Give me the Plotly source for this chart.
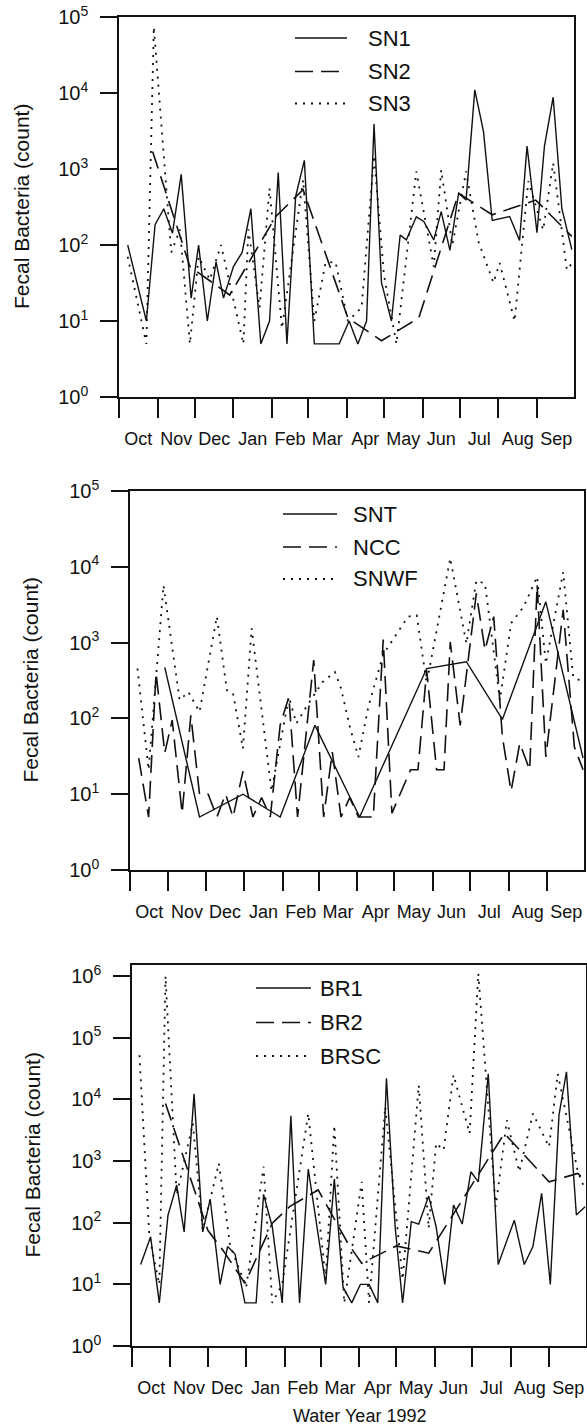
import pandas as pd
import plotly.graph_objects as go

W, H = 587, 1427
START = pd.Timestamp("1991-10-01")
FONT = "Liberation Sans, Arial, Helvetica, sans-serif"
INK = "#111111"

# Sampling day (days after 1 Oct 1991) and fecal bacteria counts per site
sn1_day = [7, 22, 29, 36, 43, 50, 58, 64, 71, 78, 84, 92, 99, 106, 114, 121, 128, 135, 142, 149,
           157, 167, 177, 185, 192, 199, 205, 211, 219, 226, 231, 239, 245, 253, 259, 266, 273, 279,
           286, 293, 300, 314, 322, 328, 336, 342, 349, 356, 364]
sn1_count = [100, 10, 185, 300, 143, 850, 20, 100, 10, 60, 20, 52, 80, 300, 5, 10, 900, 5, 435, 1300,
             5, 5, 5, 10, 5, 10, 3900, 32, 10, 135, 117, 235, 204, 117, 275, 85, 480, 390,
             11000, 3100, 210, 237, 115, 2000, 145, 2000, 8800, 300, 87]

sn2_day = [27, 57, 89, 126, 148, 184, 211, 241, 273, 300, 335, 364]
sn2_count = [1700, 52, 22, 237, 535, 11, 5.5, 11, 480, 250, 390, 130]

sn3_day = [7, 22, 28, 42, 49, 57, 64, 73, 82, 100, 104, 113, 121, 131, 148, 157, 166, 174, 184,
           195, 205, 213, 223, 239, 253, 259, 268, 279, 289, 301, 306, 318, 329, 341, 349, 360, 365]
sn3_count = [70, 5, 74000, 80, 160, 5, 70, 35, 100, 5, 160, 15, 560, 8, 720, 10, 58, 60, 10,
             15, 1500, 40, 5, 930, 52, 970, 100, 930, 110, 32, 58, 10, 690, 158, 1200, 47, 60]

snt_day = [28, 56, 91, 121, 149, 185, 239, 271, 300, 335, 365]
snt_count = [470, 5, 10, 5, 81, 5, 455, 560, 97, 3450, 30]

ncc_day = [7, 15, 21, 28, 34, 42, 49, 56, 63, 70, 77, 83, 91, 99, 106, 113, 121, 128, 135, 148,
           156, 163, 170, 177, 184, 196, 204, 211, 226, 232, 239, 247, 253, 258, 266, 279, 286,
           293, 300, 307, 314, 322, 328, 335, 349, 358, 365]
ncc_count = [30, 5, 400, 35, 95, 5.6, 110, 10, 10, 5, 10, 5, 20, 5, 9, 5, 82, 192, 5, 590,
             5, 36, 5, 9, 5, 5, 1100, 5.6, 21, 21, 430, 21, 21, 1020, 81, 4450, 800,
             2200, 57, 11, 47, 21, 5800, 31, 2700, 42, 21]

snwf_day = [6, 15, 27, 40, 47, 56, 70, 78, 83, 91, 98, 114, 128, 134, 143, 155, 165, 170, 177, 184,
            192, 204, 224, 231, 239, 258, 271, 279, 286, 298, 307, 317, 328, 335, 349, 357, 365]
snwf_count = [455, 21, 5700, 174, 224, 122, 2200, 236, 214, 40, 1540, 11, 192, 86, 150, 300, 410, 250, 78, 31,
              142, 700, 2200, 2300, 290, 13000, 970, 6600, 6000, 174, 1800, 2950, 7400, 530, 8500, 355, 300]

br1_day = [7, 15, 22, 29, 36, 42, 50, 57, 63, 71, 77, 83, 91, 100, 106, 113, 121, 128, 135, 142,
           156, 163, 170, 177, 184, 191, 198, 205, 212, 218, 225, 231, 239, 245, 252, 259, 266,
           273, 279, 287, 295, 308, 316, 323, 330, 337, 344, 350, 358, 365]
br1_count = [21, 59, 5, 133, 408, 71, 12300, 71, 240, 10, 41, 31, 5, 5, 288, 86, 5, 5400, 5, 740,
             10, 510, 9, 5, 10, 10, 5, 22000, 86, 5, 104, 95, 270, 86, 10, 194, 95,
             670, 460, 26000, 21, 110, 21, 41, 300, 10, 5600, 28000, 133, 182]

br2_day = [27, 61, 74, 91, 113, 127, 150, 174, 185, 213, 239, 300, 336, 359, 365]
br2_count = [8600, 76, 34, 10.4, 98, 182, 340, 46, 22, 42, 32, 2800, 460, 630, 500]

brsc_day = [6, 14, 22, 27, 36, 49, 57, 70, 79, 92, 106, 113, 121, 142, 156, 163, 171, 185, 191,
            204, 218, 231, 239, 245, 251, 259, 272, 279, 293, 302, 312, 323, 336, 343, 359, 365]
brsc_count = [52000, 59, 10, 1000000, 280, 4100, 76, 920, 43, 9, 810, 5, 10, 5900, 12, 3800, 5, 460, 5,
              7600, 12, 17000, 81, 1950, 1500, 25000, 2800, 1100000, 182, 4600, 670, 5900, 1700, 26000, 700, 340]

panels = [
    {"series": [("SN1", sn1_day, sn1_count), ("SN2", sn2_day, sn2_count), ("SN3", sn3_day, sn3_count)],
     "box": (119, 574, 17, 397), "top": 5, "ticks": range(0, 6),
     "legend": (295, 347, 366, [38, 71.5, 103.5]), "ytitle_x": 21},
    {"series": [("SNT", snt_day, snt_count), ("NCC", ncc_day, ncc_count), ("SNWF", snwf_day, snwf_count)],
     "box": (130, 584, 491, 870), "top": 5, "ticks": range(0, 6),
     "legend": (283, 337, 351, [514, 547, 579]), "ytitle_x": 30},
    {"series": [("BR1", br1_day, br1_count), ("BR2", br2_day, br2_count), ("BRSC", brsc_day, brsc_count)],
     "box": (132, 586, 965, 1346), "top": 6.18, "ticks": range(0, 7),
     "legend": (256, 311, 318, [988, 1022.5, 1056]), "ytitle_x": 32},
]

STYLES = [
    dict(color=INK, width=1.4, dash="solid"),
    dict(color=INK, width=1.6, dash="18px,8px"),
    dict(color=INK, width=1.8, dash="2px,6px"),
]


def px_x(px):
    return px / W


def px_y(px):
    return 1 - px / H


fig = go.Figure()
shapes, annotations = [], []

for i, panel in enumerate(panels, start=1):
    xa = "x" if i == 1 else f"x{i}"
    ya = "y" if i == 1 else f"y{i}"
    x0, x1, y0, y1 = panel["box"]

    for (name, days, counts), style in zip(panel["series"], STYLES):
        dates = START + pd.to_timedelta(days, unit="D")
        fig.add_trace(go.Scatter(x=dates, y=counts, name=name, mode="lines",
                                 line=style, xaxis=xa, yaxis=ya, showlegend=False))

    xkey = "xaxis" if i == 1 else f"xaxis{i}"
    ykey = "yaxis" if i == 1 else f"yaxis{i}"
    fig.layout[xkey] = dict(
        domain=[px_x(x0), px_x(x1)], anchor=ya, type="date",
        range=["1991-10-01", "1992-09-30 18:00"], tick0="1991-10-01", dtick="M1",
        tickformat="%b", ticklabelmode="period", ticks="outside", ticklen=19,
        tickwidth=1.5, tickcolor=INK, showline=True, linecolor=INK, linewidth=1.5,
        mirror=True, showgrid=False, zeroline=False, automargin=False,
        ticklabelstandoff=6, tickfont=dict(family=FONT, size=18, color=INK),
    )
    fig.layout[ykey] = dict(
        domain=[px_y(y1), px_y(y0)], anchor=xa, type="log", range=[0, panel["top"]],
        tickvals=[10 ** k for k in panel["ticks"]],
        ticktext=[f"10<sup>{k}</sup>" for k in panel["ticks"]],
        ticks="outside", ticklen=17, tickwidth=1.5, tickcolor=INK,
        showline=True, linecolor=INK, linewidth=1.5, mirror=True,
        showgrid=False, zeroline=False, automargin=False, ticklabelstandoff=8,
        tickfont=dict(family=FONT, size=20, color=INK),
    )

    # y-axis title
    annotations.append(dict(
        text="Fecal Bacteria (count)", textangle=-90, xref="paper", yref="paper",
        x=px_x(panel["ytitle_x"]), y=px_y((y0 + y1) / 2), xanchor="center", yanchor="middle",
        showarrow=False, font=dict(family=FONT, size=21, color=INK),
    ))

    # legend: line sample + site name
    lx0, lx1, tx, rows = panel["legend"]
    for (name, _, _), style, ry in zip(panel["series"], STYLES, rows):
        shapes.append(dict(type="line", xref="paper", yref="paper",
                           x0=px_x(lx0), x1=px_x(lx1), y0=px_y(ry), y1=px_y(ry),
                           line=dict(color=INK, width=style["width"], dash=style["dash"])))
        annotations.append(dict(text=name, xref="paper", yref="paper", x=px_x(tx), y=px_y(ry),
                                xanchor="left", yanchor="middle", showarrow=False,
                                font=dict(family=FONT, size=22, color=INK)))

annotations.append(dict(
    text="Water Year 1992", xref="paper", yref="paper", x=px_x(359), y=px_y(1416),
    xanchor="center", yanchor="middle", showarrow=False,
    font=dict(family=FONT, size=18, color=INK),
))

fig.update_layout(
    template="none", width=W, height=H, autosize=False,
    margin=dict(l=0, r=0, t=0, b=0, pad=0),
    paper_bgcolor="white", plot_bgcolor="white",
    font=dict(family=FONT, color=INK),
    shapes=shapes, annotations=annotations, showlegend=False,
)

fig.write_html("out.html")
